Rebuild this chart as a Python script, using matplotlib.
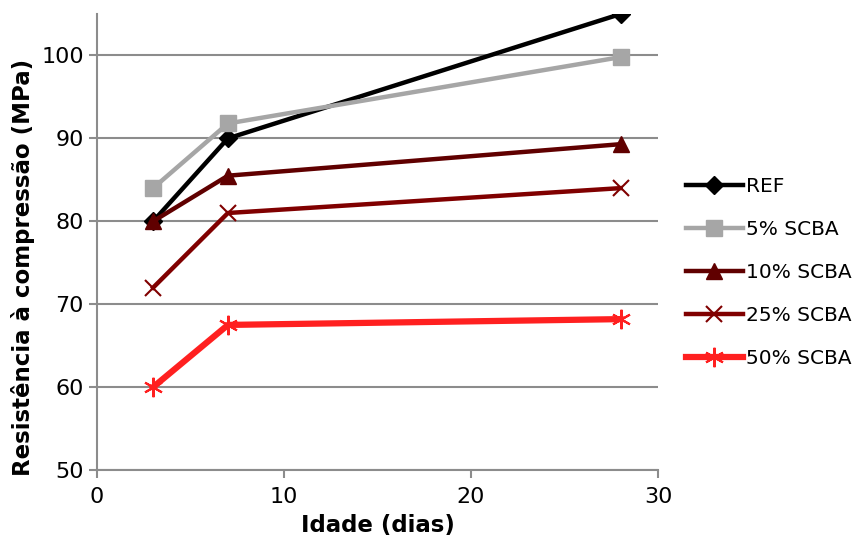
import matplotlib.pyplot as plt

plt.rcParams['font.family'] = ['DejaVu Sans']

idade = [3, 7, 28]
ref = [80, 90, 105]
scba5 = [84, 91.8, 99.8]
scba10 = [80, 85.5, 89.3]
scba25 = [72, 81, 84]
scba50 = [60, 67.5, 68.2]

fig = plt.figure(figsize=(8.68, 5.41), dpi=100)
ax = fig.add_axes([0.1118, 0.1312, 0.6462, 0.8429])

ax.plot(idade, ref, color='black', lw=3.2, marker='D', ms=9, label='REF')
ax.plot(idade, scba5, color='#a6a6a6', lw=3.2, marker='s', ms=12, label='5% SCBA')
ax.plot(idade, scba10, color='#600000', lw=3.2, marker='^', ms=12, label='10% SCBA')
ax.plot(idade, scba25, color='#800000', lw=3.2, marker='x', ms=12, mew=1.5, label='25% SCBA')
ax.plot(idade, scba50, color='#ff2020', lw=4.5, marker=(6, 2, 0), ms=14, mew=1.5, label='50% SCBA')

ax.set_xlim(0, 30)
ax.set_ylim(50, 105)
ax.set_xticks([0, 10, 20, 30])
ax.set_yticks([50, 60, 70, 80, 90, 100])
ax.grid(axis='y', color='#8c8c8c', lw=1.5)
ax.set_axisbelow(True)
for s in ['top', 'right']:
    ax.spines[s].set_visible(False)
for s in ['left', 'bottom']:
    ax.spines[s].set_color('#8c8c8c')
    ax.spines[s].set_linewidth(1.5)
ax.tick_params(colors='#8c8c8c', labelcolor='black', labelsize=16, length=6, width=1.5)
ax.tick_params(axis='x', pad=6)
ax.set_xlabel('Idade (dias)', fontsize=16.5, fontweight='bold', labelpad=5)
ax.set_ylabel('Resistência à compressão (MPa)', fontsize=16.5, fontweight='bold')
ax.yaxis.set_label_coords(-0.11, 0.445)

ax.legend(loc='center left', bbox_to_anchor=(1.018, 0.433), frameon=False, fontsize=14.5,
          handlelength=2.8, handletextpad=0.15, labelspacing=1.2)

fig.savefig('out.png', dpi=100)
